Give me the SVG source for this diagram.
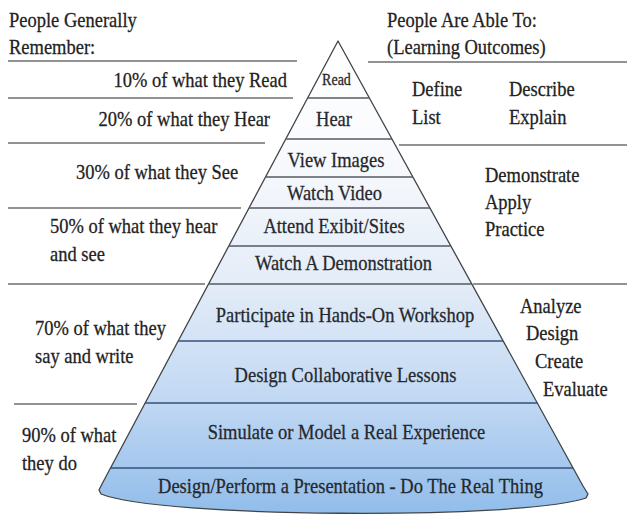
<svg xmlns="http://www.w3.org/2000/svg" width="627" height="516" viewBox="0 0 627 516">
<style>
  text { font-family: "Liberation Serif", "Times New Roman", serif; font-size: 18.5px; fill: #222; stroke: #222; stroke-width: 0.25px;
         transform-box: fill-box; transform-origin: 50% 80.5%; transform: scaleY(1.12); }
  .ptx { text-anchor: middle; fill: #25282d; stroke: #25282d; }
  .end { text-anchor: end; }
  .guide { stroke: #6e6e6e; stroke-width: 1.3; fill: none; }
  .band { stroke-width: 1.3; fill: none; }
  .bg { stroke: #555a62; }
  .bb { stroke: #34517a; }
  .outline { stroke: #404448; stroke-width: 1.3; fill: url(#pyrFill); stroke-linejoin: round; }
</style>
<defs>
  <linearGradient id="pyrFill" gradientUnits="userSpaceOnUse" x1="0" y1="40" x2="0" y2="516">
    <stop offset="0" stop-color="#ffffff"/>
    <stop offset="0.21" stop-color="#fafbfd"/>
    <stop offset="0.504" stop-color="#e5edf8"/>
    <stop offset="0.756" stop-color="#c1d8f3"/>
    <stop offset="1" stop-color="#90bcea"/>
  </linearGradient>
  <clipPath id="pyrClip">
    <path d="M338,41 L102,484 L99,490 L101,494 C160,518 520,520 586,498 L588,494 L583,486 Z"/>
  </clipPath>
</defs>
<rect width="627" height="516" fill="#ffffff"/>

<g id="pyramid">
  <path class="outline" d="M338,41 L102,484 L99,490 L101,494 C160,518 520,520 586,498 L588,494 L583,486 Z"/>
</g>

<g id="connectors">
  <g clip-path="url(#pyrClip)">
    <line class="band bg" x1="90" y1="98" x2="600" y2="98"/>
    <line class="band bg" x1="90" y1="139" x2="600" y2="139"/>
    <line class="band bg" x1="90" y1="177" x2="600" y2="177"/>
    <line class="band bg" x1="90" y1="208" x2="600" y2="208"/>
    <line class="band bg" x1="90" y1="246" x2="600" y2="246"/>
    <line class="band bg" x1="90" y1="284" x2="600" y2="284"/>
    <line class="band bb" x1="90" y1="341" x2="600" y2="341"/>
    <line class="band bb" x1="90" y1="403" x2="600" y2="403"/>
    <line class="band bb" x1="90" y1="468" x2="600" y2="468"/>
  </g>
  <line class="guide" x1="8" y1="61" x2="297" y2="61"/>
  <line class="guide" x1="8" y1="98" x2="293" y2="98"/>
  <line class="guide" x1="8" y1="143" x2="265" y2="143"/>
  <line class="guide" x1="8" y1="208" x2="241" y2="208"/>
  <line class="guide" x1="8" y1="284" x2="205" y2="284"/>
  <line class="guide" x1="14" y1="404" x2="137" y2="404"/>
  <line class="guide" x1="368" y1="62" x2="627" y2="62"/>
  <line class="guide" x1="399" y1="145" x2="627" y2="145"/>
  <line class="guide" x1="473" y1="284" x2="627" y2="284"/>
</g>

<g id="header-left">
  <text x="9" y="27">People Generally</text>
  <text x="9" y="54">Remember:</text>
</g>
<g id="header-right">
  <text x="387" y="27">People Are Able To:</text>
  <text x="387" y="54">(Learning Outcomes)</text>
</g>

<g id="band-read"><text class="ptx" x="336.5" y="85" style="font-size:14px">Read</text></g>
<g id="band-hear"><text class="ptx" x="334" y="126">Hear</text></g>
<g id="band-view-images"><text class="ptx" x="336" y="167">View Images</text></g>
<g id="band-watch-video"><text class="ptx" x="334.5" y="200">Watch Video</text></g>
<g id="band-attend"><text class="ptx" x="334" y="233">Attend Exibit/Sites</text></g>
<g id="band-demonstration"><text class="ptx" x="343.5" y="270">Watch A Demonstration</text></g>
<g id="band-workshop"><text class="ptx" x="345" y="322">Participate in Hands-On Workshop</text></g>
<g id="band-collab"><text class="ptx" x="345.5" y="382">Design Collaborative Lessons</text></g>
<g id="band-simulate"><text class="ptx" x="346.5" y="439">Simulate or Model a Real Experience</text></g>
<g id="band-real-thing"><text class="ptx" x="350.5" y="493">Design/Perform a Presentation - Do The Real Thing</text></g>

<g id="remember-10"><text class="end" x="287" y="87">10% of what they Read</text></g>
<g id="remember-20"><text class="end" x="270" y="126">20% of what they Hear</text></g>
<g id="remember-30"><text x="76" y="179">30% of what they See</text></g>
<g id="remember-50">
  <text x="50" y="233">50% of what they hear</text>
  <text x="50" y="261">and see</text>
</g>
<g id="remember-70">
  <text x="35" y="335">70% of what they</text>
  <text x="35" y="363">say and write</text>
</g>
<g id="remember-90">
  <text x="22" y="442">90% of what</text>
  <text x="22" y="470">they do</text>
</g>

<g id="outcomes-1">
  <text x="412" y="96">Define</text>
  <text x="509" y="96">Describe</text>
  <text x="412" y="124">List</text>
  <text x="509" y="124">Explain</text>
</g>
<g id="outcomes-2">
  <text x="485" y="182">Demonstrate</text>
  <text x="485" y="209">Apply</text>
  <text x="485" y="236">Practice</text>
</g>
<g id="outcomes-3">
  <text x="520" y="313">Analyze</text>
  <text x="526" y="340">Design</text>
  <text x="535" y="368">Create</text>
  <text x="543" y="396">Evaluate</text>
</g>
</svg>
